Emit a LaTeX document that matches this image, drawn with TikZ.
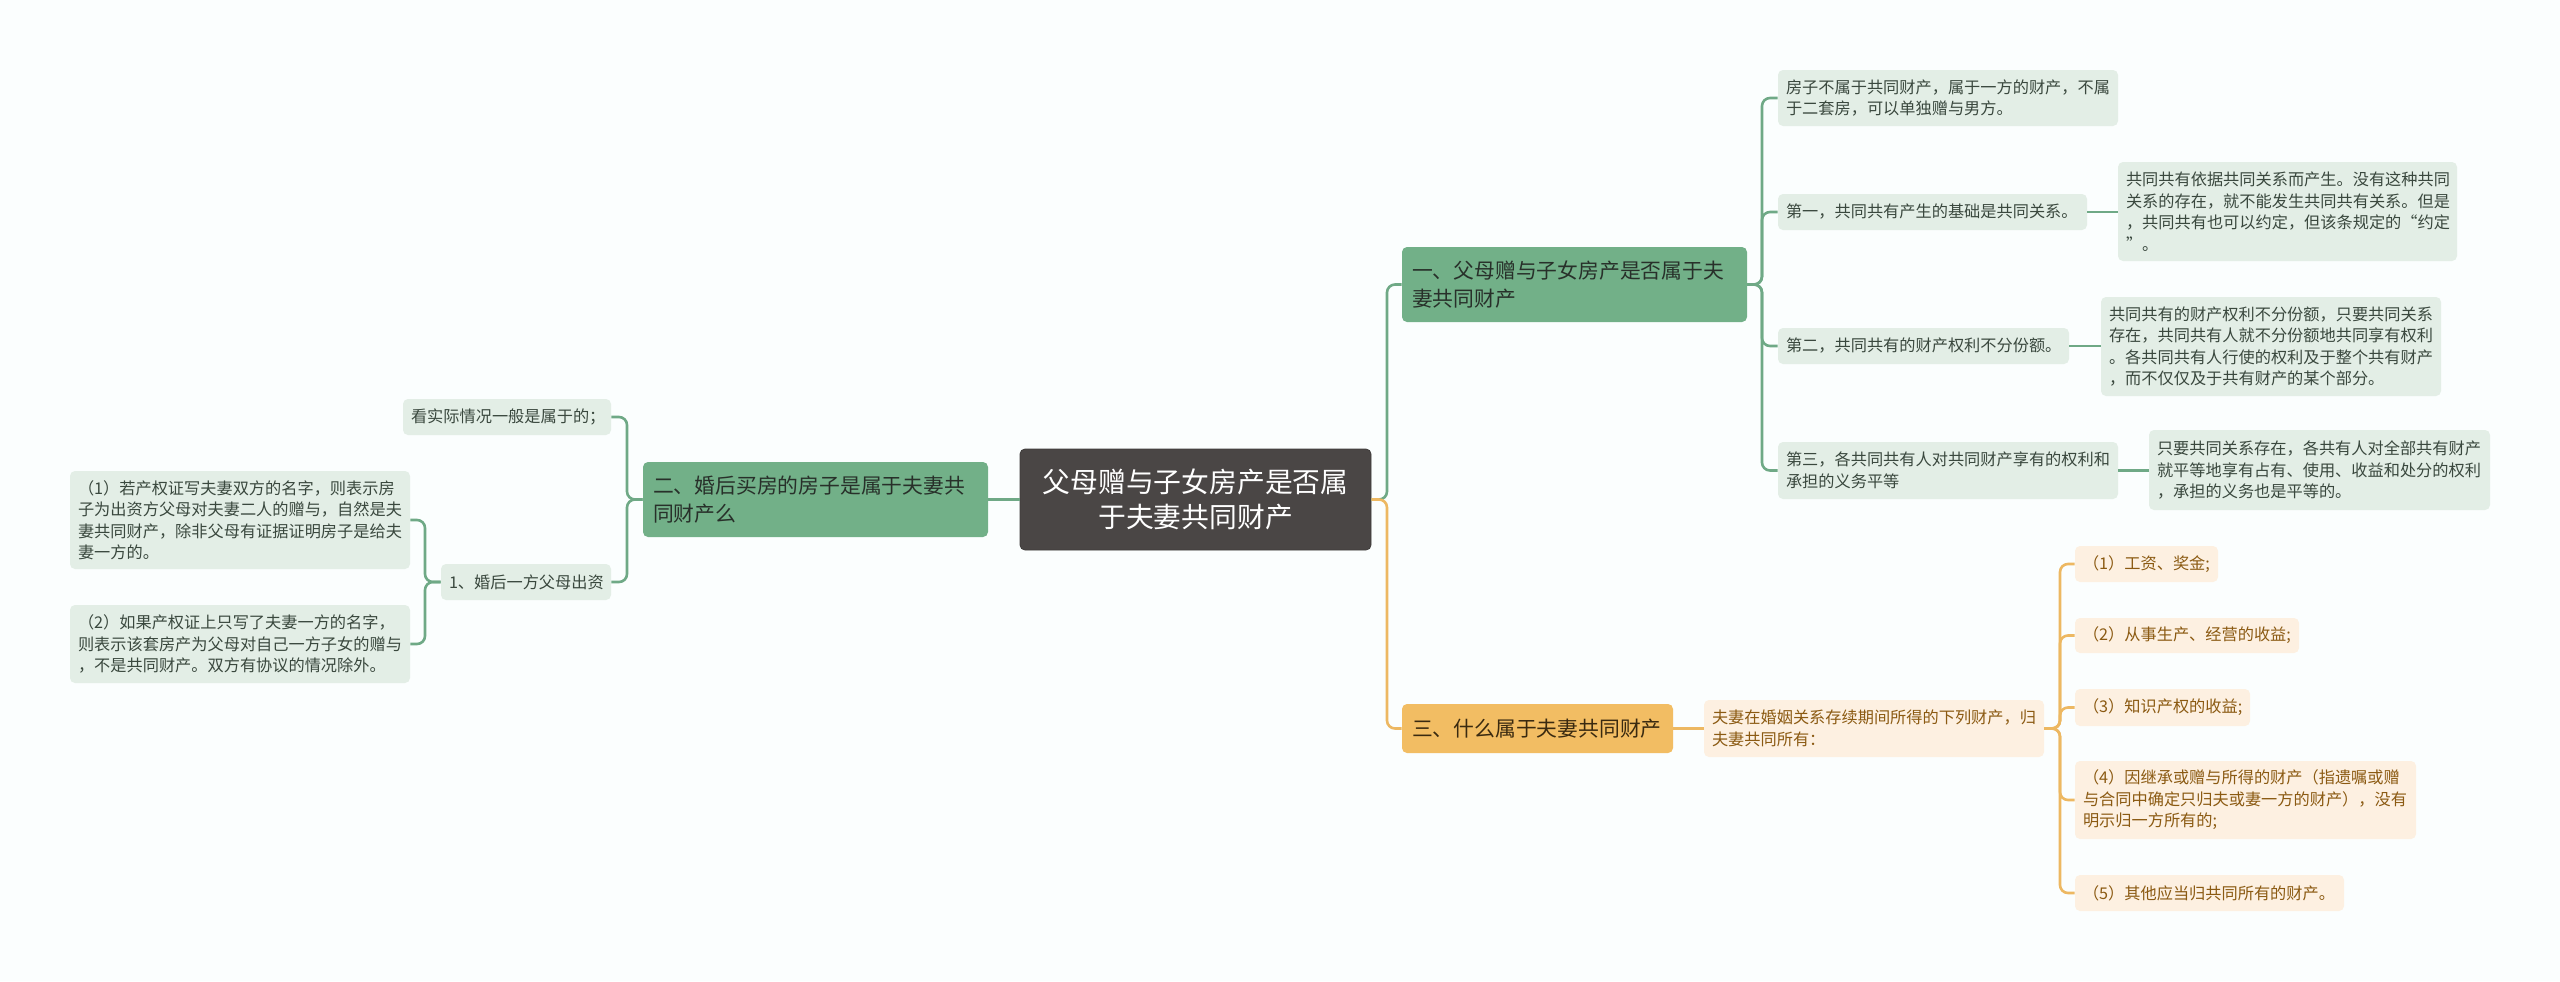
\documentclass[tikz,border=0pt]{standalone}
\usepackage{fontspec}
\setmainfont{Noto Sans CJK SC}
\definecolor{bgc}{RGB}{251,254,254}
\definecolor{cfill}{RGB}{74,70,69}
\definecolor{gmain}{RGB}{114,176,136}
\definecolor{gmaintext}{RGB}{40,48,42}
\definecolor{gleaf}{RGB}{227,238,230}
\definecolor{gleaftext}{RGB}{58,72,62}
\definecolor{gline}{RGB}{111,169,134}
\definecolor{omain}{RGB}{242,189,99}
\definecolor{omaintext}{RGB}{58,42,16}
\definecolor{oleaf}{RGB}{253,240,225}
\definecolor{oleaftext}{RGB}{139,90,18}
\definecolor{oline}{RGB}{237,184,98}
\tikzset{
  basebox/.style={rounded corners=2.5pt, align=left, inner ysep=0pt},
  centerbox/.style={basebox, fill=cfill, draw=cfill!85!black, line width=0.4pt, text=white, align=center, inner xsep=4pt, font=\fontsize{13.9pt}{17.5pt}\selectfont},
  gmainbox/.style={basebox, fill=gmain, text=gmaintext, inner xsep=5pt, font=\fontsize{10.4pt}{13.8pt}\selectfont},
  omainbox/.style={basebox, fill=omain, text=omaintext, inner xsep=5pt, font=\fontsize{10.4pt}{13.8pt}\selectfont},
  gleafbox/.style={basebox, fill=gleaf, text=gleaftext, inner xsep=4pt, font=\fontsize{8.1pt}{10.75pt}\selectfont},
  oleafbox/.style={basebox, fill=oleaf, text=oleaftext, inner xsep=4pt, font=\fontsize{8.1pt}{10.75pt}\selectfont},
  glink/.style={draw=gline, line width=1.3pt, rounded corners=4pt},
  olink/.style={draw=oline, line width=1.3pt, rounded corners=4pt},
}
\newcommand\mybox[8]{%
  \pgfmathsetmacro\bw{(#5-#3)/2}%
  \pgfmathsetmacro\bh{(#6-#4)/2}%
  \pgfmathsetmacro\bcx{(#3+#5)/2}%
  \pgfmathsetmacro\bcy{(#4+#6)/2}%
  \pgfmathsetmacro\tw{(#5-#3)/2-2*#7}%
  \node[#1, minimum width=\bw pt, minimum height=\bh pt, text width=\tw pt] (#2) at (\bcx,\bcy) {#8};%
}
\begin{document}
\begin{tikzpicture}[x=0.5pt,y=-0.5pt]
\fill[bgc] (0,0) rectangle (2560,981);
\useasboundingbox (0,0) rectangle (2560,981);

% trunk coordinates
\coordinate (t0) at (1387,0);
\coordinate (t1) at (1762,0);
\coordinate (tL) at (627,0);
\coordinate (tLL) at (425,0);
\coordinate (tO) at (2060,0);

% central
\mybox{centerbox}{ce}{1020}{449}{1371}{550}{4}{父母赠与子女房产是否属\\于夫妻共同财产}

% main branches
\mybox{gmainbox}{n1}{1402}{247}{1747}{322}{5}{一、父母赠与子女房产是否属于夫\\妻共同财产}
\mybox{gmainbox}{n2}{643}{462}{988}{537}{5}{二、婚后买房的房子是属于夫妻共\\同财产么}
\mybox{omainbox}{n3}{1402}{704}{1673}{753}{5}{三、什么属于夫妻共同财产}

% right green leaves
\mybox{gleafbox}{R0}{1778}{70}{2118}{126}{4}{房子不属于共同财产，属于一方的财产，不属\\于二套房，可以单独赠与男方。}
\mybox{gleafbox}{R1}{1778}{194}{2087}{230}{4}{第一，共同共有产生的基础是共同关系。}
\mybox{gleafbox}{R1a}{2118}{162}{2457}{261}{4}{共同共有依据共同关系而产生。没有这种共同\\关系的存在，就不能发生共同共有关系。但是\\，共同共有也可以约定，但该条规定的“约定\\”。}
\mybox{gleafbox}{R2}{1778}{328}{2069}{364}{4}{第二，共同共有的财产权利不分份额。}
\mybox{gleafbox}{R2a}{2101}{297}{2441}{396}{4}{共同共有的财产权利不分份额，只要共同关系\\存在，共同共有人就不分份额地共同享有权利\\。各共同共有人行使的权利及于整个共有财产\\，而不仅仅及于共有财产的某个部分。}
\mybox{gleafbox}{R3}{1778}{442}{2118}{499}{4}{第三，各共同共有人对共同财产享有的权利和\\承担的义务平等}
\mybox{gleafbox}{R3a}{2149}{430}{2490}{510}{4}{只要共同关系存在，各共有人对全部共有财产\\就平等地享有占有、使用、收益和处分的权利\\，承担的义务也是平等的。}

% orange leaves
\mybox{oleafbox}{O1}{1704}{700}{2044}{757}{4}{夫妻在婚姻关系存续期间所得的下列财产，归\\夫妻共同所有：}
\mybox{oleafbox}{C1}{2075}{546}{2218}{582}{4}{（1）工资、奖金;}
\mybox{oleafbox}{C2}{2075}{618}{2299}{653}{4}{（2）从事生产、经营的收益;}
\mybox{oleafbox}{C3}{2075}{689}{2250}{726}{4}{（3）知识产权的收益;}
\mybox{oleafbox}{C4}{2075}{761}{2416}{839}{4}{（4）因继承或赠与所得的财产（指遗嘱或赠\\与合同中确定只归夫或妻一方的财产），没有\\明示归一方所有的;}
\mybox{oleafbox}{C5}{2075}{875}{2344}{911}{4}{（5）其他应当归共同所有的财产。}

% left leaves
\mybox{gleafbox}{L1}{403}{399}{611}{435}{4}{看实际情况一般是属于的；}
\mybox{gleafbox}{L2}{441}{564}{611}{600}{4}{1、婚后一方父母出资}
\mybox{gleafbox}{L2a}{70}{471}{410}{569}{4}{（1）若产权证写夫妻双方的名字，则表示房\\子为出资方父母对夫妻二人的赠与，自然是夫\\妻共同财产，除非父母有证据证明房子是给夫\\妻一方的。}
\mybox{gleafbox}{L2b}{70}{605}{410}{683}{4}{（2）如果产权证上只写了夫妻一方的名字，\\则表示该套房产为父母对自己一方子女的赠与\\，不是共同财产。双方有协议的情况除外。}

% connectors: center
\draw[glink] (ce.east) -- (ce.east -| t0) |- (n1.west);
\draw[olink] (ce.east) -- (ce.east -| t0) |- (n3.west);
\draw[glink] (ce.west) -- (ce.west -| n2.east);

% n1 children
\foreach \c in {R0,R1,R2,R3}{
  \draw[glink] (n1.east) -- (n1.east -| t1) |- (\c.west);
}
\draw[glink] (R1.east) -- (R1.east -| R1a.west);
\draw[glink] (R2.east) -- (R2.east -| R2a.west);
\draw[glink] (R3.east) -- (R3.east -| R3a.west);

% n3 children
\draw[olink] (n3.east) -- (n3.east -| O1.west);
\foreach \c in {C1,C2,C3,C4,C5}{
  \draw[olink] (O1.east) -- (O1.east -| tO) |- (\c.west);
}

% n2 children
\foreach \c in {L1,L2}{
  \draw[glink] (n2.west) -- (n2.west -| tL) |- (\c.east);
}
\foreach \c in {L2a,L2b}{
  \draw[glink] (L2.west) -- (L2.west -| tLL) |- (\c.east);
}
\end{tikzpicture}
\end{document}
